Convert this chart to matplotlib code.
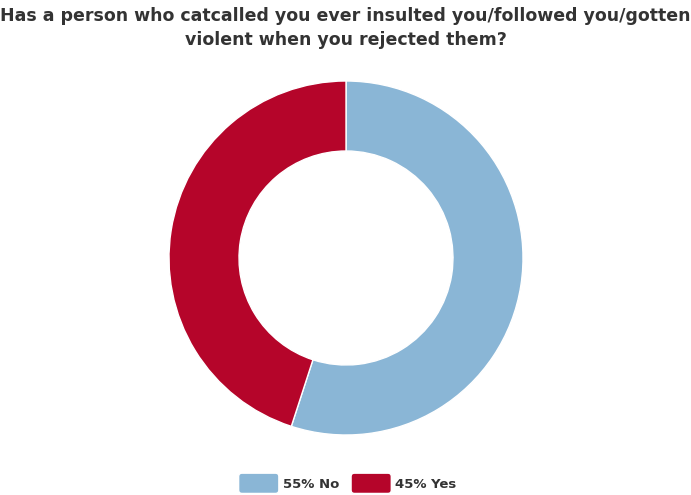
import matplotlib.pyplot as plt
from matplotlib.patches import FancyBboxPatch
from matplotlib.legend_handler import HandlerPatch

labels = ["No", "Yes"]
shares = [55, 45]
colors = ["#8ab6d6", "#b5052a"]
title = "Has a person who catcalled you ever insulted you/followed you/gotten\nviolent when you rejected them?"

fig = plt.figure(figsize=(6.91, 4.95), dpi=100)
ax = fig.add_axes([0, 0, 1, 1])

wedges, _ = ax.pie(shares, colors=colors, startangle=90, counterclock=False,
                   center=(346, 237), radius=177, frame=True,
                   wedgeprops=dict(width=70, edgecolor="white", linewidth=1))
ax.set_xlim(0, 691)
ax.set_ylim(0, 495)
ax.set_aspect("equal")
ax.axis("off")

fig.text(0.5, 0.985, title, ha="center", va="top", fontsize=12.5,
         fontweight="bold", color="#333333", linespacing=1.38,
         family="DejaVu Sans")


def rounded_box(legend, orig_handle, xdescent, ydescent, width, height, fontsize):
    # box about 40x20 px, centred in the handle area
    h = 14.6
    y0 = -ydescent + height / 2 - h / 2
    return FancyBboxPatch((-xdescent, y0), width, h,
                          boxstyle="round,pad=0,rounding_size=2.5",
                          linewidth=0)


leg_labels = [f"{s}% {l}" for s, l in zip(shares, labels)]
leg = fig.legend(wedges, leg_labels, loc="center", ncol=2, frameon=False,
                 bbox_to_anchor=(0.503, 0.022), handlelength=3.05,
                 handleheight=1.0, handletextpad=0.3, columnspacing=0.9,
                 prop=dict(weight="bold", size=9.5), labelcolor="#333333",
                 handler_map={wedges[0]: HandlerPatch(patch_func=rounded_box),
                              wedges[1]: HandlerPatch(patch_func=rounded_box)})

fig.savefig("out.png", dpi=100)
